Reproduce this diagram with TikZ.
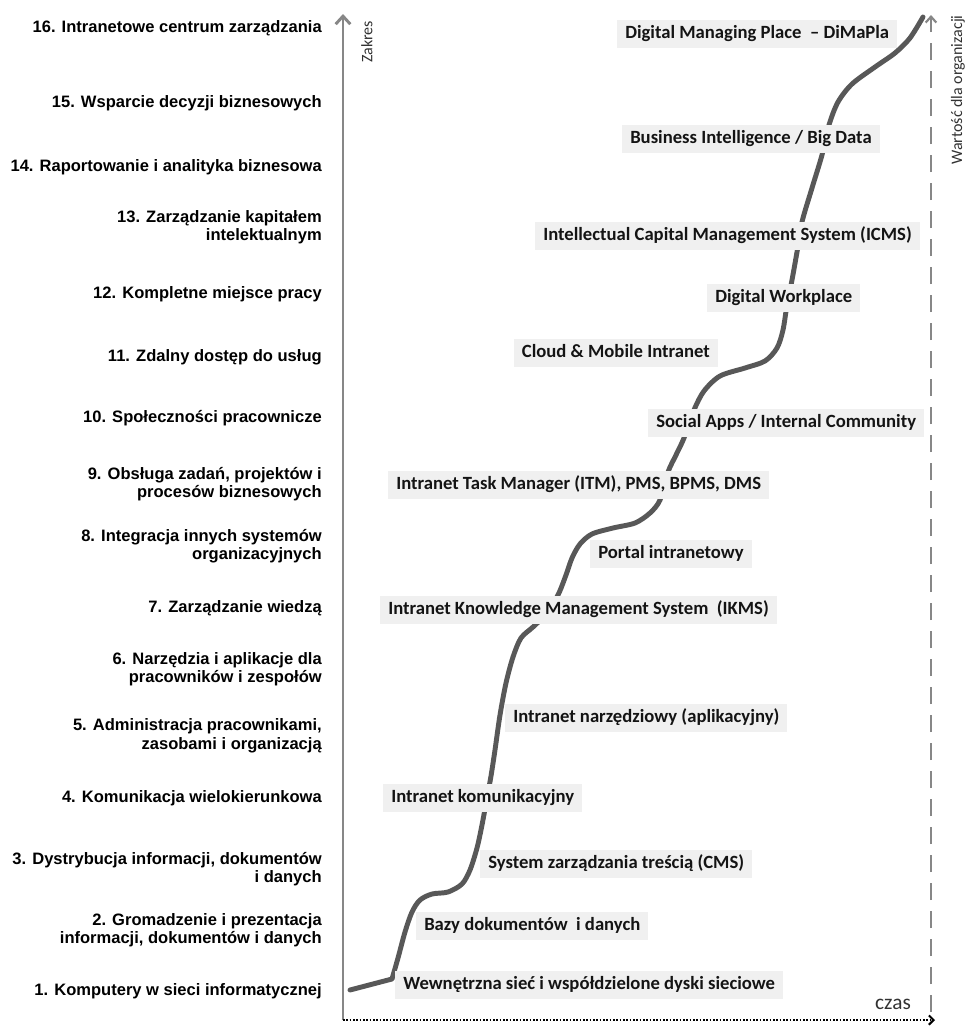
\documentclass[tikz,border=0pt]{standalone}
\usepackage{fontspec}
\setmainfont{Carlito}
\newfontfamily\levelfont{Liberation Sans}
\usetikzlibrary{arrows.meta}
\definecolor{boxfill}{RGB}{240,240,240}
\definecolor{curvegray}{RGB}{88,88,88}
\definecolor{axisgray}{RGB}{135,135,135}
\definecolor{labelgray}{RGB}{50,50,50}
\definecolor{inkblack}{RGB}{20,20,20}

\begin{document}
\begin{tikzpicture}[x=0.75pt,y=-0.75pt,
  level/.style={anchor=east,align=right,inner sep=0pt,text=black,
    font=\levelfont\bfseries\fontsize{12.4}{13.9}\selectfont},
  stage/.style={fill=boxfill,text=inkblack,inner xsep=6pt,inner ysep=0pt,
    text height=10.5pt,text depth=3.5pt,minimum height=21pt,
    font=\bfseries\fontsize{14}{16}\selectfont},
  axislabel/.style={inner sep=0pt,text=labelgray,font=\fontsize{12}{14}\selectfont},
  curve/.style={line width=3.7pt,draw=curvegray,line join=round,line cap=round}]

\useasboundingbox (0,0) rectangle (965,1026);

% axes
\coordinate (origin) at (343,1020);
\coordinate (ytop) at (343,14);
\coordinate (xend) at (935,1020);
\coordinate (vbot) at (931,1012);
\coordinate (vtop) at (931,15);

\draw[axisgray,line width=2.2pt,-{Straight Barb[length=6pt,width=11pt]}] (origin) -- (ytop);
\draw[axisgray,line width=1.6pt,dash pattern=on 13pt off 8pt,-{Straight Barb[length=4.5pt,width=8pt]}] (vbot) -- (vtop);
\draw[black,line width=2pt,dash pattern=on 1.3pt off 1.2pt,-{Straight Barb[length=3.5pt,width=7pt,line width=1.5pt]}] (origin) -- (xend);

\node[axislabel,rotate=90] (zakres) at (367,42) {Zakres};
\node[axislabel,rotate=90] (wartosc) at (958,90) {Wartość dla organizacji};
\node[axislabel,font=\fontsize{16}{18}\selectfont] (czas) at (893,1004) {czas};

% growth curve
\draw[curve] (350,990) -- plot[smooth,tension=0.5] coordinates {
  (392,979) (398,958) (405,932) (412,912) (420,900) (432,894) (448,892)
  (462,884) (470,870) (477,848) (482,825) (487,798) (491,776) (495,750)
  (500,715) (506,683) (513,657) (521,638) (533,627) (546,614) (558,595)
  (566,575) (572,558) (580,544) (592,534) (613,528) (635,523) (650,513)
  (660,500) (668,472) (676,455) (684,438) (694,410) (704,391) (720,376)
  (745,368) (765,361) (777,348) (783,330) (787,305) (792,280) (797,252)
  (802,222) (812,188) (822,155) (829,125) (838,102) (852,84) (875,67)
  (895,53) (910,38) (923,17)};

% stages along the curve
\node[stage,anchor=west] (s16) at (617,34) {Digital Managing Place~~– DiMaPla};
\node[stage,anchor=west] (s15) at (622,139) {Business Intelligence / Big Data};
\node[stage,anchor=east] (s13) at (920,236) {Intellectual Capital Management System (ICMS)};
\node[stage,anchor=west] (s12) at (707,298) {Digital Workplace};
\node[stage,anchor=east] (s11) at (718,353) {Cloud \& Mobile Intranet};
\node[stage,anchor=west] (s10) at (648,423) {Social Apps / Internal Community};
\node[stage,anchor=west] (s9) at (388,485) {Intranet Task Manager (ITM), PMS, BPMS, DMS};
\node[stage,anchor=west] (s8) at (590,554) {Portal intranetowy};
\node[stage,anchor=west] (s7) at (380,610) {Intranet Knowledge Management System~~(IKMS)};
\node[stage,anchor=west] (s5) at (505,718) {Intranet narzędziowy (aplikacyjny)};
\node[stage,anchor=west] (s4) at (383,798) {Intranet komunikacyjny};
\node[stage,anchor=west] (s3) at (480,864) {System zarządzania treścią (CMS)};
\node[stage,anchor=west] (s2) at (416,926) {Bazy dokumentów~~i danych};
\node[stage,anchor=west] (s1) at (395,985) {Wewnętrzna sieć i współdzielone dyski sieciowe};

% levels of scope
\node[level] (l16) at (322,28) {16. Intranetowe centrum zarządzania};
\node[level] (l15) at (322,103) {15. Wsparcie decyzji biznesowych};
\node[level] (l14) at (322,167) {14. Raportowanie i analityka biznesowa};
\node[level] (l13) at (322,227) {13. Zarządzanie kapitałem\\intelektualnym};
\node[level] (l12) at (322,294) {12. Kompletne miejsce pracy};
\node[level] (l11) at (322,357) {11. Zdalny dostęp do usług};
\node[level] (l10) at (322,418) {10. Społeczności pracownicze};
\node[level] (l9) at (322,484) {9. Obsługa zadań, projektów i\\procesów biznesowych};
\node[level] (l8) at (322,546) {8. Integracja innych systemów\\organizacyjnych};
\node[level] (l7) at (322,608) {7. Zarządzanie wiedzą};
\node[level] (l6) at (322,669) {6. Narzędzia i aplikacje dla\\pracowników i zespołów};
\node[level] (l5) at (322,736) {5. Administracja pracownikami,\\zasobami i organizacją};
\node[level] (l4) at (322,798) {4. Komunikacja wielokierunkowa};
\node[level] (l3) at (322,869) {3. Dystrybucja informacji, dokumentów\\i danych};
\node[level] (l2) at (322,930) {2. Gromadzenie i prezentacja\\informacji, dokumentów i danych};
\node[level] (l1) at (322,991) {1. Komputery w sieci informatycznej};

\end{tikzpicture}
\end{document}
